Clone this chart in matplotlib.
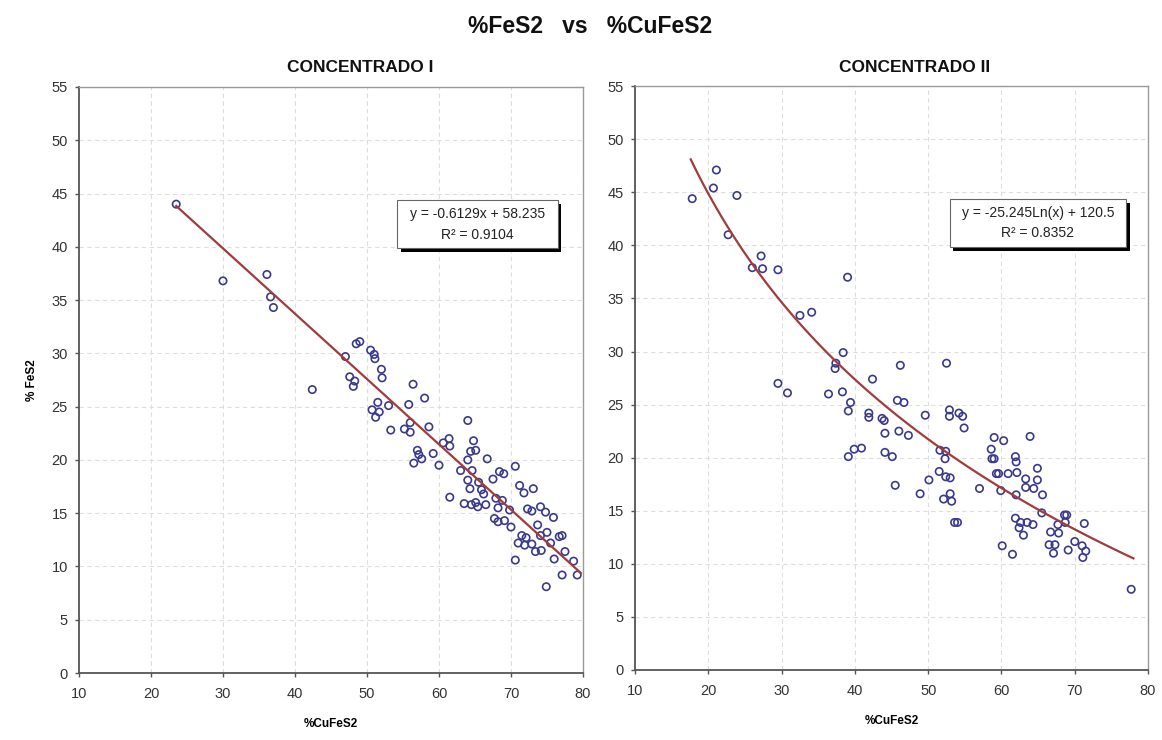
import numpy as np
import matplotlib
matplotlib.use('Agg')
import matplotlib.pyplot as plt
from matplotlib.patches import Rectangle

plt.rcParams['font.family'] = ['Liberation Sans', 'DejaVu Sans']

# Concentrado I: %CuFeS2 (x) vs %FeS2 (y)
cuf_1 = [23.5, 30.0, 36.1, 36.6, 37.0, 42.4, 47.0, 48.5, 49.0, 47.6, 48.3, 48.1,
         50.5, 51.0, 51.1, 52.0, 52.1, 51.5, 50.7, 51.7, 51.2, 53.0,
         56.4, 58.0, 55.8, 53.3, 55.2, 56.0, 56.0, 58.6, 64.0, 60.6,
         61.4, 61.5, 64.8, 64.4, 65.1, 57.0, 57.2, 57.6, 56.5, 59.2,
         60.0, 64.0, 66.7, 63.0, 64.6, 64.0, 64.3, 65.5, 65.9, 66.2,
         67.5, 68.4, 69.0, 70.6, 61.5, 63.5, 64.5, 65.1, 65.4, 66.5,
         67.9, 68.8, 68.2, 69.8, 67.7, 68.2, 69.1, 70.0, 71.2, 71.8,
         73.1, 72.3, 72.9, 74.1, 74.8, 75.9, 73.7, 71.5, 72.1, 71.0,
         71.9, 72.9, 74.1, 75.0, 76.7, 77.1, 75.5, 73.4, 74.2, 77.5,
         76.0, 70.6, 78.7, 79.2, 77.1, 74.9]
fes_1 = [44.0, 36.8, 37.4, 35.3, 34.3, 26.6, 29.7, 30.9, 31.1, 27.8, 27.4, 26.9,
         30.3, 29.9, 29.5, 28.5, 27.7, 25.4, 24.7, 24.5, 24.0, 25.1,
         27.1, 25.8, 25.2, 22.8, 22.9, 23.5, 22.6, 23.1, 23.7, 21.6,
         22.0, 21.3, 21.8, 20.8, 20.9, 20.9, 20.5, 20.1, 19.7, 20.6,
         19.5, 20.0, 20.1, 19.0, 19.0, 18.1, 17.3, 17.9, 17.2, 16.8,
         18.2, 18.9, 18.7, 19.4, 16.5, 15.9, 15.8, 16.0, 15.6, 15.8,
         16.4, 16.2, 15.5, 15.3, 14.5, 14.2, 14.3, 13.7, 17.6, 16.9,
         17.3, 15.4, 15.2, 15.6, 15.1, 14.6, 13.9, 12.9, 12.7, 12.2,
         12.0, 12.1, 12.9, 13.2, 12.8, 12.9, 12.2, 11.4, 11.5, 11.4,
         10.7, 10.6, 10.5, 9.2, 9.2, 8.1]

# Concentrado II
cuf_2 = [17.8, 20.7, 21.1, 23.9, 22.7, 26.0, 27.2, 27.4, 29.5, 29.5, 30.8,
         32.5, 34.1, 39.0, 38.4, 37.4, 37.3, 36.4, 38.3, 39.4, 39.1, 39.1,
         39.9, 40.9, 42.4, 41.9, 41.9, 43.7, 44.1, 44.1, 44.0, 45.1, 46.2,
         45.8, 46.7, 46.0, 47.3, 45.5, 48.9, 49.6, 50.1, 51.6, 52.4, 52.3,
         51.5, 52.4, 53.0, 52.1, 53.2, 53.0, 52.5, 52.9, 52.9, 54.2, 54.7,
         54.9, 53.6, 54.0, 57.0, 59.0, 60.3, 63.9, 58.6, 58.7, 59.0, 59.3,
         59.6, 60.9, 62.1, 61.9, 62.0, 64.9, 64.9, 63.3, 59.9, 62.0, 63.3,
         64.4, 65.6, 65.5, 61.9, 62.6, 63.5, 64.3, 62.4, 63.0, 60.1, 61.5,
         66.7, 67.8, 67.7, 68.6, 68.9, 68.7, 71.3, 66.5, 67.3, 67.1, 69.1,
         70.0, 71.0, 71.1, 71.5, 77.7]
fes_2 = [44.4, 45.4, 47.1, 44.7, 41.0, 37.9, 39.0, 37.8, 37.7, 27.0, 26.1,
         33.4, 33.7, 37.0, 29.9, 28.9, 28.4, 26.0, 26.2, 25.2, 24.4, 20.1,
         20.8, 20.9, 27.4, 24.2, 23.8, 23.7, 22.3, 20.5, 23.5, 20.1, 28.7,
         25.4, 25.2, 22.5, 22.1, 17.4, 16.6, 24.0, 17.9, 20.7, 20.6, 19.9,
         18.7, 18.2, 18.1, 16.1, 15.9, 16.6, 28.9, 24.5, 23.9, 24.2, 23.9,
         22.8, 13.9, 13.9, 17.1, 21.9, 21.6, 22.0, 20.8, 19.9, 19.9, 18.5,
         18.5, 18.5, 18.6, 20.1, 19.6, 19.0, 17.9, 18.0, 16.9, 16.5, 17.2,
         17.1, 16.5, 14.8, 14.3, 13.9, 13.9, 13.7, 13.4, 12.7, 11.7, 10.9,
         13.0, 12.9, 13.7, 14.6, 14.6, 13.9, 13.8, 11.8, 11.8, 11.0, 11.3,
         12.1, 11.7, 10.6, 11.2, 7.6]

# trend line coefficients shown on the chart
lin_a, lin_b = -0.6129, 58.235
log_a, log_b = -25.245, 120.5
lin_label = ['y = -0.6129x + 58.235', 'R² = 0.9104']
log_label = ['y = -25.245Ln(x) + 120.5', 'R² = 0.8352']

x_ticks = [10, 20, 30, 40, 50, 60, 70, 80]
y_ticks = [0, 5, 10, 15, 20, 25, 30, 35, 40, 45, 50, 55]

marker_color = '#3a3a8c'
line_color = '#a23b3b'
tick_color = '#333333'

fig = plt.figure(figsize=(11.62, 7.4), dpi=100)
ax1 = fig.add_axes([0.068, 0.0905, 0.4337, 0.792])
ax2 = fig.add_axes([0.5465, 0.0946, 0.4415, 0.789])


def style_axes(ax):
    ax.set_xlim(10, 80)
    ax.set_ylim(0, 55)
    ax.set_xticks(x_ticks)
    ax.set_yticks(y_ticks)
    ax.grid(True, color='#dedede', linestyle=(0, (4, 3)), linewidth=0.8)
    ax.set_axisbelow(True)
    ax.tick_params(axis='both', direction='out', length=3, width=1,
                   color='#555555', labelsize=10.5, labelcolor=tick_color)
    ax.tick_params(axis='x', pad=7)
    ax.tick_params(axis='y', pad=5)
    for s in ['left', 'bottom']:
        ax.spines[s].set_color('#555555')
        ax.spines[s].set_linewidth(1.3)
    for s in ['top', 'right']:
        ax.spines[s].set_color('#9a9a9a')
        ax.spines[s].set_linewidth(1.0)


def eq_box(ax, x0, x1, y0, y1, lines):
    shadow = Rectangle((x0 + 0.007, y0 - 0.007), x1 - x0, y1 - y0,
                       transform=ax.transAxes, facecolor='black',
                       edgecolor='none', zorder=5)
    box = Rectangle((x0, y0), x1 - x0, y1 - y0, transform=ax.transAxes,
                    facecolor='white', edgecolor='#666666', linewidth=0.8,
                    zorder=6)
    ax.add_patch(shadow)
    ax.add_patch(box)
    xm = (x0 + x1) / 2
    h = y1 - y0
    ax.text(xm, y1 - h * 0.3, lines[0], transform=ax.transAxes, ha='center',
            va='center', fontsize=10, color='#222222', zorder=7)
    ax.text(xm, y1 - h * 0.72, lines[1], transform=ax.transAxes, ha='center',
            va='center', fontsize=10, color='#222222', zorder=7)


# Concentrado I
style_axes(ax1)
ax1.scatter(cuf_1, fes_1, s=28, facecolors='none', edgecolors=marker_color,
            linewidths=1.2, zorder=3)
xl = np.linspace(min(cuf_1), 79.7, 50)
ax1.plot(xl, lin_a * xl + lin_b, color=line_color, linewidth=1.6, zorder=4)
eq_box(ax1, 0.631, 0.950, 0.725, 0.807, lin_label)
ax1.set_ylabel('% FeS2', fontsize=8.5, fontweight='bold', labelpad=10)
ax1.set_xlabel('%CuFeS2', fontsize=8.5, fontweight='bold', labelpad=12)

# Concentrado II
style_axes(ax2)
ax2.scatter(cuf_2, fes_2, s=28, facecolors='none', edgecolors=marker_color,
            linewidths=1.2, zorder=3)
xg = np.linspace(17.6, 78.0, 100)
ax2.plot(xg, log_a * np.log(xg) + log_b, color=line_color, linewidth=1.6,
         zorder=4)
eq_box(ax2, 0.613, 0.957, 0.725, 0.807, log_label)
ax2.set_xlabel('%CuFeS2', fontsize=8.5, fontweight='bold', labelpad=12)

fig.text(0.508, 0.964, '%FeS2   vs   %CuFeS2', ha='center', va='center',
         fontsize=16.5, fontweight='bold', color='#111111')
fig.text(0.31, 0.909, 'CONCENTRADO I', ha='center', va='center',
         fontsize=12.5, fontweight='bold', color='#111111')
fig.text(0.787, 0.909, 'CONCENTRADO II', ha='center', va='center',
         fontsize=12.5, fontweight='bold', color='#111111')

fig.savefig('out.png', dpi=100)
